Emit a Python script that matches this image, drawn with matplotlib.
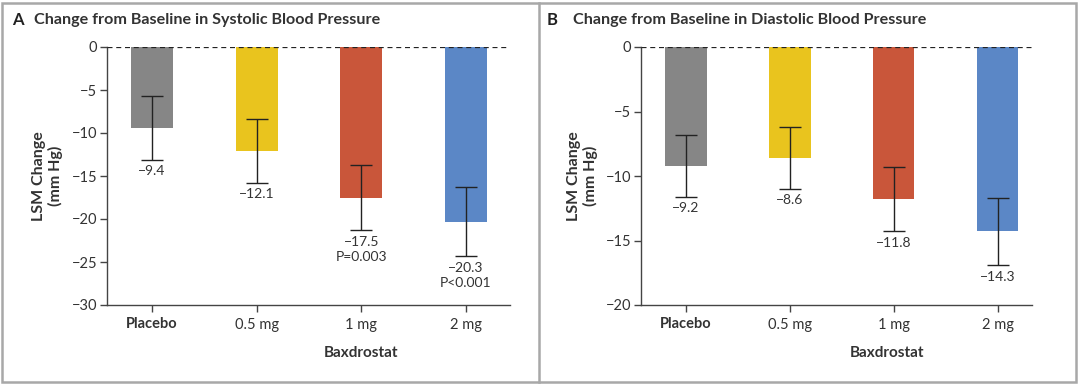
import matplotlib
matplotlib.use("Agg")
import matplotlib.pyplot as plt
from matplotlib.patches import Rectangle
from matplotlib.lines import Line2D

plt.rcParams['font.family'] = ['Lato', 'DejaVu Sans']

categories = ["Placebo", "0.5 mg", "1 mg", "2 mg"]
colors = ["#868686", "#e9c41e", "#c9563a", "#5b87c6"]

sbp_mean = [-9.4, -12.1, -17.5, -20.3]
sbp_err = [3.7, 3.7, 3.8, 4.0]
sbp_labels = ["\u22129.4", "\u221212.1", "\u221217.5\nP=0.003", "\u221220.3\nP<0.001"]

dbp_mean = [-9.2, -8.6, -11.8, -14.3]
dbp_err = [2.4, 2.4, 2.5, 2.6]
dbp_labels = ["\u22129.2", "\u22128.6", "\u221211.8", "\u221214.3"]

sbp_ticks = [0, -5, -10, -15, -20, -25, -30]
dbp_ticks = [0, -5, -10, -15, -20]

fig = plt.figure(figsize=(10.8, 3.84), dpi=100)
W, H = 1080, 384

def px(x, y):
    return x / W, 1 - y / H

textc = "#333333"

def panel(ax, means, errs, labels, ticks, ymin, xmax):
    x = list(range(len(categories)))
    ax.bar(x, means, width=0.4, color=colors, zorder=2)
    ax.errorbar(x, means, yerr=errs, fmt='none', ecolor='#222222',
                elinewidth=1.0, capsize=8, capthick=1.0, zorder=3)
    ax.axhline(0, color='#222222', lw=0.9, ls=(0, (4, 3)), zorder=4)
    for xi, m, e, lab in zip(x, means, errs, labels):
        ax.annotate(lab, (xi, m - e), xytext=(0, -4), textcoords='offset points',
                    ha='center', va='top', fontsize=10, color=textc,
                    linespacing=1.3)
    ax.set_xlim(-0.43, xmax)
    ax.set_ylim(ymin, 0)
    ax.set_yticks(ticks)
    ax.set_yticklabels([("\u2212" + str(-t)) if t < 0 else str(t) for t in ticks])
    ax.set_xticks(x)
    ax.set_xticklabels(categories)
    ax.get_xticklabels()[0].set_fontweight('bold')
    for sp in ['top', 'right']:
        ax.spines[sp].set_visible(False)
    for sp in ['left', 'bottom']:
        ax.spines[sp].set_color('#444444')
        ax.spines[sp].set_linewidth(1.0)
    ax.tick_params(axis='both', direction='out', length=5, width=1.0,
                   color='#444444', labelsize=10.5, labelcolor=textc, pad=2)
    ax.tick_params(axis='x', pad=4)
    ax.set_xlabel("Baxdrostat", fontsize=11, fontweight='bold', color=textc)
    ax.set_ylabel("LSM Change\n(mm Hg)", fontsize=11.5, fontweight='bold',
                  color=textc, linespacing=1.15)
    ax.xaxis.set_label_coords(0.63, -0.16)
    ax.yaxis.set_label_coords(-0.11, 0.5)

l1, t1 = px(107, 47)
r1, b1 = px(510, 305)
ax1 = fig.add_axes([l1, b1, r1 - l1, t1 - b1])
panel(ax1, sbp_mean, sbp_err, sbp_labels, sbp_ticks, -30, 3.42)

l2, t2 = px(641, 47)
r2, b2 = px(1032, 305)
ax2 = fig.add_axes([l2, b2, r2 - l2, t2 - b2])
panel(ax2, dbp_mean, dbp_err, dbp_labels, dbp_ticks, -20, 3.33)

# titles
fig.text(*px(12, 20), "A", fontsize=12, fontweight='bold', color='#222222', va='center')
fig.text(*px(34, 20), "Change from Baseline in Systolic Blood Pressure",
         fontsize=11.6, fontweight='bold', color='#333333', va='center')
fig.text(*px(547, 20), "B", fontsize=12, fontweight='bold', color='#222222', va='center')
fig.text(*px(573, 20), "Change from Baseline in Diastolic Blood Pressure",
         fontsize=11.6, fontweight='bold', color='#333333', va='center')

# frames
fig.add_artist(Rectangle((2 / W, 2 / H), 1 - 6 / W, 1 - 5 / H, transform=fig.transFigure,
                         fill=False, edgecolor='#a8a8a8', lw=1.8))
fig.add_artist(Line2D([539 / W, 539 / W], [2 / H, 1 - 3 / H], transform=fig.transFigure,
                      color='#a8a8a8', lw=1.8))

fig.savefig("out.png", dpi=100, facecolor='white')
